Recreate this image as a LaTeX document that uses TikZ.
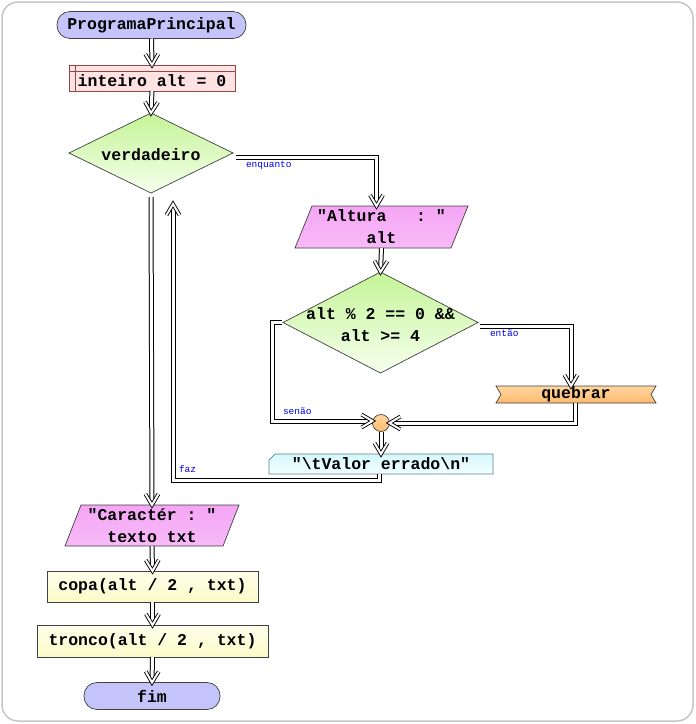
\documentclass[tikz,border=0pt]{standalone}
\usepackage{fontspec}
\newfontfamily\codefont{Liberation Mono}
\usetikzlibrary{shapes.geometric,arrows.meta,calc,backgrounds,decorations.markings}

\definecolor{lav}{RGB}{196,196,250}
\definecolor{pinkfill}{RGB}{255,226,226}
\definecolor{pinkline}{RGB}{150,70,70}
\definecolor{greentop}{RGB}{196,244,150}
\definecolor{greenbot}{RGB}{246,255,238}
\definecolor{magtop}{RGB}{244,166,244}
\definecolor{magmid}{RGB}{255,242,255}
\definecolor{magbot}{RGB}{248,186,248}
\definecolor{orgtop}{RGB}{255,214,160}
\definecolor{orgmid}{RGB}{255,246,232}
\definecolor{orgbot}{RGB}{255,186,110}
\definecolor{cyantop}{RGB}{214,248,255}
\definecolor{cyanbot}{RGB}{242,255,255}
\definecolor{cyanline}{RGB}{90,130,140}
\definecolor{yeltop}{RGB}{255,255,236}
\definecolor{yelbot}{RGB}{250,250,200}
\definecolor{tagblue}{RGB}{0,0,230}

\begin{document}
\begin{tikzpicture}[x=1pt,y=-1pt,
  every node/.style={inner sep=0pt, outer sep=0pt},
  code/.style={font=\codefont\bfseries\fontsize{16.5}{22}\selectfont, text=black},
  tag/.style={font=\codefont\fontsize{9.5}{10}\selectfont, text=tagblue},
  outline/.style={draw=black!75, line width=0.7pt},
  terminal/.style={outline, rectangle, rounded corners=13pt, minimum height=27pt,
    code, top color=lav, middle color=white, bottom color=lav},
  process/.style={outline, rectangle, code, top color=yeltop, bottom color=yelbot},
  decision/.style={outline, diamond, top color=greentop, bottom color=greenbot},
  inoutbox/.style={code, align=center, rectangle},
  inoutfill/.style={outline, top color=magtop, middle color=magmid, bottom color=magbot},
  hollowhead/.style={draw=black, line width=0.9pt, double=white, double distance=2pt,
    line join=miter, shorten >=0pt, shorten <=0pt, -},
  flow/.style={draw=black, line width=1pt, double=white, double distance=3pt,
    line join=miter, shorten >=4pt,
    postaction={decorate, decoration={markings, mark=at position 1 with
      {\draw[hollowhead] (-11pt,6.5pt) -- (0pt,0pt) -- (-11pt,-6.5pt);}}}},
]
\useasboundingbox (0,0) rectangle (696,724);

% nodes of the chart
\node[terminal, minimum width=189pt] (start) at (151.5,25) {ProgramaPrincipal};
\node[outline, draw=pinkline, fill=pinkfill, minimum width=166pt, minimum height=26pt,
  label={[code, yshift=-3pt]center:{inteiro alt = 0}}] (init) at (152,78) {};
\node[decision, minimum width=164pt, minimum height=80pt,
  label={[code, yshift=-2pt]center:verdadeiro}] (loop) at (151,153) {};
\node[inoutbox, minimum width=173pt, minimum height=42pt] (askh) at (381.5,227)
  {\raisebox{-2pt}{"Altura~~~:~"}\\\raisebox{-2pt}{alt}};
\node[decision, minimum width=195pt, minimum height=101pt,
  label={[code, align=center, yshift=-2pt]center:{alt \% 2 == 0 \&\&\\alt >= 4}}] (cond) at (380.5,322.5) {};
\node[code, minimum width=160pt, minimum height=17pt] (brk) at (576,394.5) {quebrar};
\node[outline, circle, minimum size=17pt, top color=orgtop, middle color=orgmid,
  bottom color=orgbot] (join) at (381,423) {};
\node[code, minimum width=224pt, minimum height=20pt] (err) at (381,464)
  {"\textbackslash tValor errado\textbackslash n"};
\coordinate (back) at (173,204);
\node[inoutbox, minimum width=174pt, minimum height=41pt] (askc) at (152,525.5)
  {\raisebox{-2pt}{"Caractér~:~"}\\\raisebox{-2pt}{texto txt}};
\node[process, minimum width=211pt, minimum height=31pt] (copa) at (152.5,586.5) {copa(alt / 2 , txt)};
\node[process, minimum width=231pt, minimum height=32pt] (tronco) at (152.5,641) {tronco(alt / 2 , txt)};
\node[terminal, minimum width=136pt] (fim) at (152,696) {fim};

% shapes drawn behind plain text nodes
\begin{scope}[on background layer]
  \draw[gray!45, line width=1.5pt, rounded corners=16pt] (2,2) rectangle (693,721);
  \path[inoutfill] ([xshift=17pt]askh.north west) -- (askh.north east)
    -- ([xshift=-17pt]askh.south east) -- (askh.south west) -- cycle;
  \path[inoutfill] ([xshift=16pt]askc.north west) -- (askc.north east)
    -- ([xshift=-16pt]askc.south east) -- (askc.south west) -- cycle;
  \path[outline, top color=orgtop, middle color=orgmid, bottom color=orgbot]
    (brk.north west) -- (brk.north east) -- ([xshift=-5pt]brk.east)
    -- (brk.south east) -- (brk.south west) -- ([xshift=5pt]brk.west) -- cycle;
  \path[outline, draw=cyanline, top color=cyantop, bottom color=cyanbot]
    ([xshift=6pt]err.north west) -- (err.north east) -- (err.south east)
    -- (err.south west) -- ([yshift=-6pt]err.north west) -- cycle;
\end{scope}
\draw[pinkline, line width=0.6pt]
  ($(init.north west)+(0,6)$) -- ($(init.north east)+(0,6)$)
  ($(init.north west)+(6,0)$) -- ($(init.south west)+(6,0)$);

% connectors
\draw[flow] (start.south) -- (init.north);
\draw[flow] (init.south) -- (loop.north);
\draw[flow] ([shift={(3,4)}]loop.east) -| ($(askh.north)+(-5,0)$);
\draw[flow] (askh.south) -- (cond.north);
\draw[flow] ([shift={(2,4)}]cond.east) -| ($(brk.north)+(-5,0)$);
\draw[flow] ([xshift=-1pt]cond.west) -- ++(-10,0) |- ([yshift=2pt]join.west);
\draw[flow] ([xshift=-1pt]brk.south) |- (join.east);
\draw[flow] (join.south) -- (err.north);
\draw[flow] ([xshift=-2pt]err.south) -- ++(0,6) -| (back);
\draw[flow] ([yshift=-4pt]loop.south) -- (askc.north);
\draw[flow] (askc.south) -- (copa.north);
\draw[flow] (copa.south) -- (tronco.north);
\draw[flow] (tronco.south) -- (fim.north);

% branch labels
\node[tag, anchor=west] (t-enq) at (246,165) {enquanto};
\node[tag, anchor=west] (t-ent) at (490,333) {então};
\node[tag, anchor=west] (t-sen) at (283,411) {senão};
\node[tag, anchor=west] (t-faz) at (179,469) {faz};
\end{tikzpicture}
\end{document}
